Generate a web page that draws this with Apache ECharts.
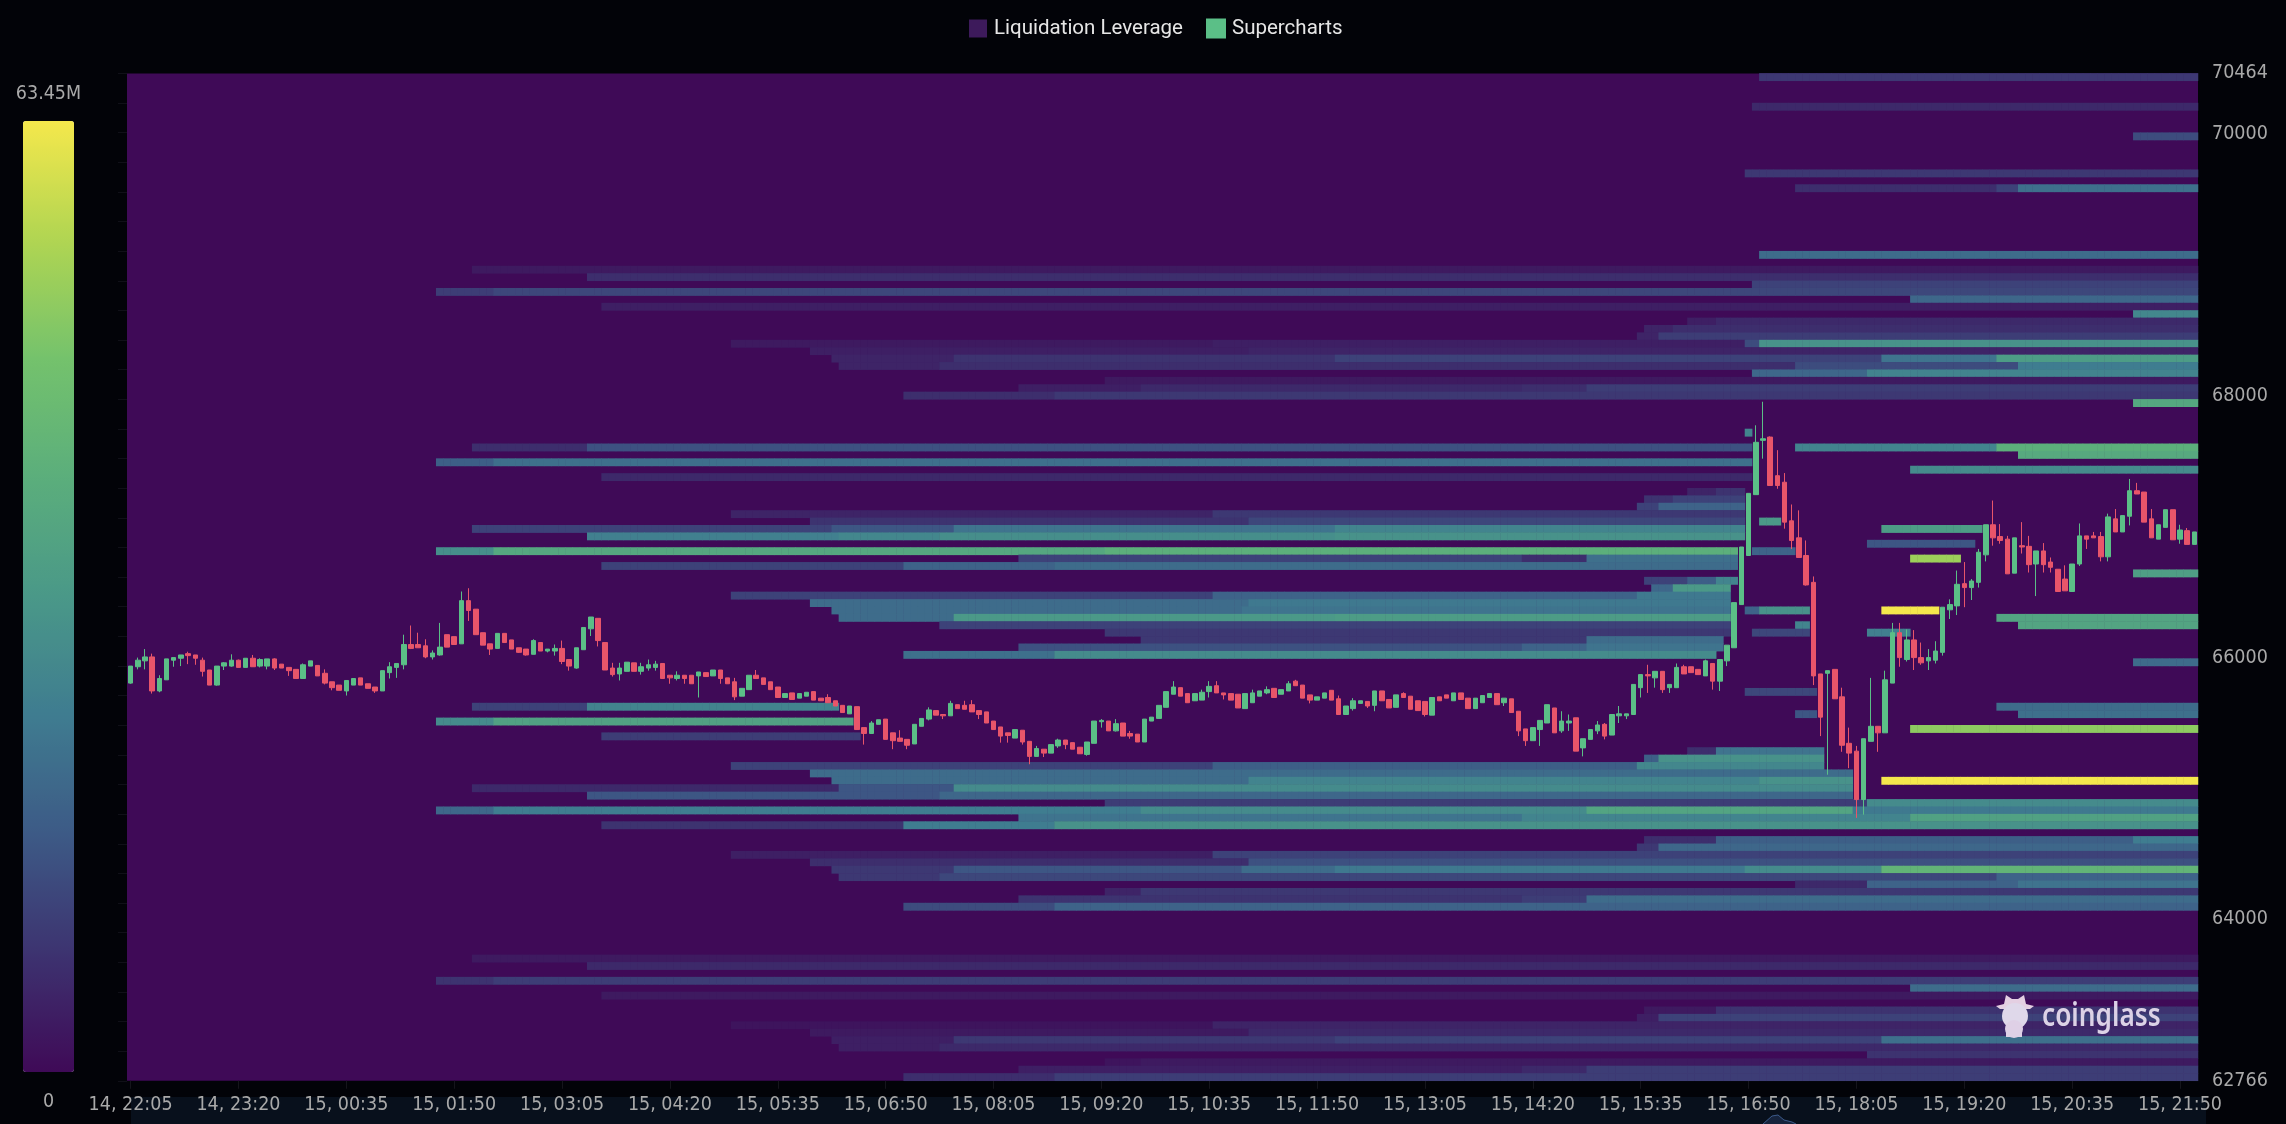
<!DOCTYPE html>
<html><head><meta charset="utf-8">
<style>html,body{margin:0;padding:0;background:#020308}#c{width:2286px;height:1124px}</style>
<script src="https://cdn.jsdelivr.net/npm/echarts@6/dist/echarts.min.js"></script>
</head><body><div id="c"></div>
<script>
const priceTicks=[62766,64000,66000,68000,70000,70464];
const rowCount=136;
const maxLeverage=63.45;
const colorStops=['#3f0a57','#3d3370','#3d5a86','#3f7c90','#4a9888','#5bae7c','#74c26c','#b0d552','#f5e84c'];
// [open, close, low, high]
const ohlcEarly=[
[65805,65935,65800,65935],[65930,65980,65910,66000],[65975,66005,65910,66065],[66005,65745,65725,66030],[65745,65840,65735,65865],
[65830,65990,65830,65990],[65980,66000,65930,66000],[65995,66020,65935,66020],[66030,66015,65950,66045],[66020,65995,65945,66020],
[65980,65895,65855,66000],[65905,65790,65790,65905],[65790,65935,65785,65935],[65935,65960,65905,65965],[65935,65980,65930,66025],
[65980,65925,65925,65985],[65925,65995,65925,65995],[65995,65930,65930,66020],[65935,65985,65925,65995],[65935,65990,65910,65990],
[65990,65920,65905,65995],[65950,65920,65920,65950],[65925,65900,65860,65925],[65910,65840,65840,65910],[65840,65945,65840,65955],
[65935,65975,65935,65975],[65940,65860,65860,65940],[65880,65805,65795,65910],[65815,65770,65750,65815],[65790,65750,65750,65790],
[65745,65825,65710,65825],[65790,65840,65790,65840],[65845,65790,65790,65845],[65800,65765,65765,65800],[65775,65745,65730,65775],
[65745,65900,65745,65900],[65885,65930,65840,65965],[65925,65955,65845,65955],[65945,66100,65910,66175],[66100,66070,66065,66245],
[66100,66075,66075,66190],[66090,66005,65995,66140],[66005,66035,65985,66055],[66020,66080,66015,66265],[66175,66080,66080,66175],
[66160,66100,66100,66160],[66105,66435,66105,66505],[66435,66360,66280,66530],[66370,66175,66175,66370],[66190,66095,66095,66190],
[66105,66065,66020,66105],[66070,66185,66070,66185],[66185,66115,66115,66185],[66135,66065,66065,66135],[66075,66040,66035,66075],
[66065,66020,66015,66065],[66025,66130,66025,66140],[66115,66050,66050,66115],[66050,66065,66040,66065],[66050,66070,66015,66100],
[66070,65970,65950,66130],[65985,65935,65900,65985],[65920,66075,65915,66075],[66060,66230,66060,66230],[66220,66310,66165,66310],
[66300,66130,66085,66300],[66115,65905,65905,66115],[65920,65870,65855,65960],[65875,65920,65825,65960],[65895,65965,65895,65965],
[65960,65895,65895,65960],[65895,65930,65870,65960],[65920,65945,65900,65985],[65925,65950,65900,65975],[65955,65840,65840,65955],
[65865,65845,65800,65865],[65840,65865,65825,65895],[65865,65840,65800,65865],[65865,65800,65800,65865],[65860,65890,65695,65890],
[65885,65855,65855,65885],[65860,65905,65860,65905],[65905,65840,65800,65905],[65845,65800,65800,65845],[65815,65700,65675,65845],
[65705,65765,65705,65765],[65755,65865,65755,65865],[65865,65840,65840,65905],[65845,65795,65795,65845],[65815,65755,65755,65815],
[65775,65695,65695,65775],[65695,65725,65695,65725],[65730,65680,65680,65730],[65690,65725,65690,65725],[65705,65735,65705,65735],
[65740,65675,65675,65740],[65690,65670,65670,65690],[65695,65655,65655,65720],[65670,65630,65630,65670],[65635,65580,65580,65635],
[65570,65630,65570,65630],[65625,65450,65450,65625],[65465,65420,65335,65465],[65420,65500,65420,65515],[65490,65525,65490,65525]];
const ohlcMiddle=[
[65530,65375,65375,65530],[65425,65365,65300,65425],[65385,65360,65360,65445],[65375,65330,65300,65375],[65340,65490,65340,65490],
[65475,65535,65475,65535],[65530,65600,65520,65620],[65595,65560,65560,65595],[65565,65555,65530,65565],[65555,65650,65555,65670],
[65640,65610,65610,65640],[65635,65605,65605,65670],[65640,65585,65585,65675],[65595,65565,65530,65595],[65585,65500,65500,65585],
[65515,65450,65450,65515],[65470,65400,65350,65470],[65425,65405,65350,65425],[65385,65450,65385,65450],[65445,65355,65335,65445],
[65360,65245,65185,65360],[65245,65305,65245,65325],[65300,65270,65240,65300],[65270,65335,65270,65335],[65325,65370,65310,65380],
[65370,65335,65300,65370],[65350,65300,65300,65350],[65315,65265,65265,65315],[65260,65355,65250,65355],[65345,65515,65345,65515],
[65510,65520,65465,65530],[65515,65440,65440,65515],[65440,65495,65435,65530],[65500,65400,65400,65500],[65420,65400,65380,65440],
[65415,65355,65355,65415],[65355,65530,65355,65530],[65515,65545,65515,65545],[65535,65635,65535,65635],[65620,65740,65620,65740],
[65720,65775,65720,65820],[65770,65705,65705,65770],[65725,65655,65655,65725],[65670,65725,65670,65725],[65675,65735,65675,65755],
[65740,65780,65695,65820],[65785,65730,65730,65820],[65730,65715,65680,65730],[65725,65675,65675,65725],[65720,65615,65615,65720],
[65610,65725,65610,65725],[65655,65730,65655,65755],[65705,65745,65705,65745],[65730,65755,65720,65780],[65765,65695,65695,65765],
[65720,65755,65720,65755],[65745,65800,65745,65820],[65820,65785,65785,65830],[65790,65690,65690,65790],[65715,65675,65650,65715],
[65675,65700,65675,65700],[65690,65730,65690,65730],[65750,65675,65675,65750],[65685,65565,65565,65710],[65565,65630,65565,65630],
[65610,65670,65595,65690],[65650,65670,65650,65670],[65665,65630,65615,65665],[65635,65745,65590,65745],[65745,65670,65670,65745],
[65680,65615,65615,65680],[65620,65715,65620,65715],[65725,65695,65695,65735],[65705,65605,65605,65705],[65670,65595,65595,65670],
[65665,65565,65550,65665],[65560,65695,65560,65695],[65700,65670,65670,65700],[65715,65690,65690,65715],[65670,65730,65670,65730],
[65730,65680,65680,65730],[65690,65610,65610,65690],[65610,65690,65610,65690],[65655,65710,65655,65710],[65695,65725,65695,65725],
[65725,65640,65640,65725],[65655,65690,65630,65690],[65685,65580,65580,65685],[65590,65440,65400,65590],[65455,65365,65325,65455],
[65365,65465,65365,65465],[65450,65520,65325,65520],[65500,65640,65500,65640],[65615,65425,65425,65615],[65440,65515,65425,65590],
[65500,65515,65440,65565],[65540,65285,65285,65540],[65310,65380,65245,65380],[65375,65450,65375,65450],[65440,65485,65415,65515]];
const ohlcLate=[
[65490,65400,65375,65500],[65408,65565,65408,65565],[65555,65570,65500,65630],[65555,65570,65530,65570],[65565,65795,65565,65795],
[65770,65870,65695,65870],[65870,65860,65730,65945],[65845,65895,65770,65895],[65895,65755,65730,65895],[65770,65795,65730,65795],
[65770,65925,65770,65955],[65930,65875,65875,65945],[65930,65885,65885,65930],[65910,65870,65870,65910],[65860,65975,65860,65985],
[65955,65820,65755,65955],[65820,65985,65745,65985],[65975,66095,65935,66095],[66075,66420,66075,66420],[66405,66845,66405,66845],
[66780,67255,66780,67255],[67245,67645,67245,67775],[67660,67672,67520,67955],[67685,67315,67315,67690],[67390,67315,67290,67585],
[67340,67035,66985,67410],[67045,66895,66830,67170],[66915,66765,66765,67125],[66780,66555,66550,66895],[66575,65860,65790,66620],
[65875,65545,65400,65875],[65880,65900,65105,65900],[65910,65685,65685,65910],[65700,65330,65280,65770],[65345,65270,65155,65465],
[65285,64915,64775,65325],[64915,65380,64800,65380],[65360,65475,65360,65845],[65475,65425,65280,65475],[65425,65830,65425,65900],
[65805,66190,65805,66265],[66190,66000,65930,66265],[65985,66135,65970,66215],[66135,66000,65905,66210],[66000,65960,65945,66115],
[65975,66000,65905,66065],[65980,66050,65955,66125],[66040,66385,66015,66385],[66365,66405,66295,66445],[66395,66560,66325,66665],
[66565,66535,66385,66730],[66535,66585,66440,66600],[66575,66805,66535,66830],[66785,67015,66735,67015],[67015,66915,66855,67200],
[66925,66895,66870,67020],[66905,66640,66640,66930],[66645,66915,66645,66915],[66855,66845,66795,67035],[66850,66710,66650,66930],
[66715,66815,66470,66815],[66815,66710,66650,66875],[66730,66690,66650,66765],[66675,66505,66505,66675],[66600,66510,66510,66705],
[66505,66715,66505,66715],[66715,66930,66700,67025],[66930,66905,66830,66930],[66930,66915,66915,66960],[66925,66770,66735,66960],
[66770,67075,66735,67100],[67060,66960,66960,67135],[66960,67085,66960,67085],[67080,67275,67010,67365],[67275,67250,67250,67335],
[67265,67035,67035,67265],[67060,66915,66915,67135],[66905,67015,66905,67015],[66995,67130,66995,67130],[67130,66900,66900,67130],
[66905,66975,66870,67015],[66970,66865,66865,66990],[66865,66960,66865,66960]];
// [row from the top, last time slot (exclusive), start slot, leverage in M, next start slot, leverage in M, ...]
const bandsTop=[
[0,288,227,9],[4,288,226,6],[8,288,279,13],[13,288,225,9],[15,288,232,7,260,11,263,21],[24,288,227,20],
[26,288,48,3],[27,288,64,7],[28,288,226,11],[29,288,43,10,51,12],[30,288,248,19],[31,288,66,4],[32,288,279,27],
[33,288,217,4,221,6],[34,288,211,5,215,7],[35,288,210,5,213,10],[36,288,84,3,151,4,225,13,227,30],[37,288,95,4,156,5],
[38,288,98,5,115,8,168,11,244,22,260,33],[39,288,99,5,113,7,232,13,263,24],[40,288,226,19,242,26],[41,288,136,3],
[42,288,124,4,141,6,194,7,203,10],[43,288,108,7,129,9],[44,288,279,37],[48,226,225,26]];
const bandsMiddle=[
[50,226,48,7,64,14],[50,288,232,26,260,40],[51,288,263,38],[52,226,43,17,51,21],[53,288,248,28],[54,226,66,6],
[56,225,217,5,221,8],[57,225,211,8,215,11],[58,225,210,11,213,18],[59,225,84,5,151,9],[60,225,95,8,156,12],[60,230,227,32],
[61,225,48,11,98,15,115,22,168,26],[61,258,244,33],[62,225,64,25,99,27,113,29,168,30],[63,257,242,15],
[64,224,43,29,51,37,136,40],[64,232,226,18],[65,224,124,11,194,7,203,21],[65,255,248,53],[66,224,66,11,108,18,129,20],
[67,288,279,34],[68,224,211,11,217,17,221,26],[69,223,212,19,215,32],[70,223,84,11,151,18,210,23],[71,223,95,20,156,23],
[72,223,98,20,155,22],[72,234,225,18,227,30],[72,252,244,63.45],[73,223,99,20,115,32,168,33],[73,288,260,36],
[74,223,113,11],[74,234,232,26],[74,288,263,36],[75,223,136,9],[75,234,226,12],[75,248,242,25],
[76,222,141,9,203,20],[77,222,124,14,194,18,203,22],[78,221,108,21,129,28],[79,288,279,20],[83,235,225,12],
[85,99,48,11,64,26],[85,288,260,20],[86,235,232,15],[86,288,263,21],[87,101,43,28,51,35],[88,288,248,51],[89,102,66,10]];
const bandsLower=[
[91,236,217,7,221,22],[92,236,211,17,213,30],[93,236,84,11,151,17,210,27],[94,240,95,20],
[95,240,98,20,156,26,227,30],[95,288,244,63.45],[96,240,48,6,99,15,115,28],[97,240,64,15,113,19],
[98,242,136,10],[98,288,242,28],[99,240,43,19,51,24,141,28,203,36],[99,288,240,23],
[100,248,124,22,194,26],[100,288,248,35],[101,288,66,8,108,24,129,30],[103,288,211,7,221,17,279,24],[104,288,210,9,213,19],
[105,288,84,4,151,11],[106,288,95,7,156,14],[107,288,98,9,115,15,155,20,168,23,225,28,244,42],[108,288,99,9,113,12,260,18],
[109,288,232,6,242,18,263,22],[110,288,136,5,141,9],[111,288,124,8,194,10,203,20],[112,288,108,13,129,18],
[119,288,48,3],[120,288,64,6],[122,288,43,8,51,10],[123,288,248,20],[124,288,66,3],[126,288,211,3,221,8],[127,288,210,4,213,11],
[128,288,84,2,151,5],[129,288,95,3,156,6],[130,288,98,4,115,9,168,11,244,21],[131,288,99,4,113,6],[132,288,242,8],
[133,288,136,2,141,3],[134,288,124,4,194,6,203,10],[135,288,108,7,129,10]];

const FONT='"DejaVu Sans Condensed","Roboto",sans-serif';
const ohlc=ohlcEarly.concat(ohlcMiddle,ohlcLate);
const pad=n=>String(n).padStart(2,'0');
const times=ohlc.map((_,i)=>{const m=22*60+5+i*5;const d=m>=1440?15:14;const t=m%1440;return d+', '+pad(Math.floor(t/60))+':'+pad(t%60);});
const rows=Array.from({length:rowCount},(_,i)=>String(i));
const cells=new Map();
bandsTop.concat(bandsMiddle,bandsLower).forEach(b=>{
  const row=b[0],end=b[1];
  for(let k=2;k<b.length;k+=2){
    const stop=k+2<b.length?b[k+2]:end;
    for(let x=b[k];x<stop;x++)cells.set(x+'_'+row,[x,row,b[k+1]]);
  }
});
const heat=[...cells.values()];
const chart=echarts.init(document.getElementById('c'),null,{renderer:'canvas'});
chart.setOption({
  animation:false,
  backgroundColor:'#020308',
  textStyle:{fontFamily:FONT},
  legend:{left:964,top:13,itemWidth:18,itemHeight:18,itemGap:23,selectedMode:false,
    textStyle:{color:'#e6e6e6',fontSize:20.5,fontFamily:'Roboto',padding:[0,0,0,2]},
    data:[{name:'Liquidation Leverage',icon:'rect',itemStyle:{color:'#3d1a5b'}},
          {name:'Supercharts',icon:'rect',itemStyle:{color:'#5bbf87'}}]},
  grid:{left:127,top:73.4,right:88,bottom:43.2,show:true,backgroundColor:colorStops[0],borderWidth:0},
  xAxis:{type:'category',data:times,boundaryGap:true,
    axisLine:{show:false},
    axisTick:{show:true,interval:14,length:8,alignWithLabel:true,lineStyle:{color:'#15151c'}},
    axisLabel:{interval:14,color:'#a9a9a9',fontSize:19.5,margin:14,fontFamily:FONT},
    splitLine:{show:false}},
  yAxis:[
    {type:'value',position:'right',min:priceTicks[0],max:priceTicks[priceTicks.length-1],
     axisLine:{show:false},axisTick:{show:false},splitLine:{show:false},
     axisLabel:{show:true,customValues:priceTicks,color:'#a9a9a9',fontSize:19.5,margin:14,fontFamily:FONT,
       padding:[3,0,0,0],formatter:v=>String(v),showMinLabel:true,showMaxLabel:true}},
    {type:'category',position:'left',inverse:true,data:rows,
     axisLine:{show:false},axisLabel:{show:false},splitLine:{show:false},
     axisTick:{show:true,interval:3,length:9,lineStyle:{color:'#101018'}}}
  ],
  visualMap:{type:'continuous',seriesIndex:0,min:0,max:maxLeverage,calculable:false,
    left:8,top:106,itemWidth:51,itemHeight:951,orient:'vertical',
    text:null,
    inRange:{color:colorStops}},
  series:[
    {name:'Liquidation Leverage',type:'heatmap',xAxisIndex:0,yAxisIndex:1,data:heat,progressive:0,
     itemStyle:{borderWidth:0},emphasis:{disabled:true},z:1},
    {name:'Supercharts',type:'candlestick',xAxisIndex:0,yAxisIndex:0,data:ohlc,barWidth:5,z:3,
     itemStyle:{color:'#5bbf87',color0:'#e8556a',borderColor:'#5bbf87',borderColor0:'#e8556a',borderWidth:1}}
  ],
  graphic:[
    {type:'rect',z:0,shape:{x:131,y:1097,width:2075,height:27},style:{fill:'#08101c'}},
    {type:'polyline',z:1,shape:{points:[[1763,1124],[1772,1116],[1778,1115],[1784,1120],[1792,1122],[1796,1124]]},style:{fill:'#16233c',stroke:'#3c5a8a',lineWidth:1}},
    {type:'text',z:60,style:{x:48.5,y:93.5,text:maxLeverage+'M',fill:'#a9a9a9',font:'19.5px '+FONT,textAlign:'center',textVerticalAlign:'middle'}},
    {type:'text',z:60,style:{x:48.5,y:1102,text:'0',fill:'#a9a9a9',font:'19.5px '+FONT,textAlign:'center',textVerticalAlign:'middle'}},
    {type:'polygon',z:60,shape:{points:[[2004,1004],[2006,995],[2012,999],[2018,999],[2024,995],[2026,1004],[2034,1006],[2030,1009],[2000,1009],[1996,1006]]},style:{fill:'#e4cfe2'}},
    {type:'circle',z:60,shape:{cx:2015,cy:1016,r:13},style:{fill:'#dfd8ea'}},
    {type:'circle',z:60,shape:{cx:2014,cy:1029,r:9},style:{fill:'#dfd0e6'}},
    {type:'rect',z:60,shape:{x:2006,y:1030,width:5,height:7},style:{fill:'#dfd0e6'}},
    {type:'rect',z:60,shape:{x:2017,y:1030,width:5,height:7},style:{fill:'#dfd0e6'}},
    {type:'text',z:60,x:2042,y:1017,scaleX:0.82,style:{x:0,y:0,text:'coinglass',fill:'#dcd2e6',font:'600 32px "Noto Sans"',textVerticalAlign:'middle'}}
  ]
});
</script></body></html>
